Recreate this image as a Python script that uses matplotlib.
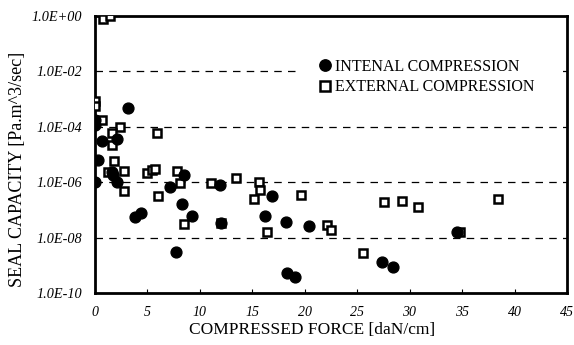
import matplotlib
matplotlib.use("Agg")
import matplotlib.pyplot as plt
from matplotlib.ticker import FixedLocator, FuncFormatter
import numpy as np

# internal compression: force [daN/cm], seal capacity [Pa.m^3/sec]
int_force = [3.16, 0.05, 0.05, 0.68, 2.17, 0.33, 1.66, 1.8, 2.11, 0.05,
             7.18, 8.54, 8.29, 9.32, 3.85, 4.39, 7.75, 11.93, 12.09, 16.9,
             16.2, 18.2, 18.33, 19.06, 20.4, 27.36, 28.4, 34.5]
int_cap = [4.7e-4, 1.8e-4, 1.2e-4, 3.1e-5, 3.7e-5, 6.5e-6, 2.4e-6, 1.8e-6, 1.0e-6, 1.0e-6,
           6.6e-7, 1.8e-6, 1.7e-7, 6.0e-8, 5.7e-8, 7.9e-8, 2.9e-9, 7.9e-7, 3.3e-8, 3.2e-7,
           6.0e-8, 3.6e-8, 5.1e-10, 3.7e-10, 2.7e-8, 1.35e-9, 8.5e-10, 1.6e-8]

# external compression
ext_force = [0.84, 1.47, 0.05, 0.05, 0.68, 2.42, 1.63, 1.63, 5.91, 1.88,
             1.31, 2.83, 4.96, 5.47, 5.75, 7.84, 8.17, 2.83, 6.06, 8.5,
             11.14, 13.52, 15.64, 15.73, 15.16, 16.46, 19.7, 22.17, 22.5, 25.55,
             27.6, 29.26, 30.78, 38.4, 34.8, 12.09]
ext_cap = [0.78, 1.0, 8.5e-4, 5.6e-4, 1.8e-4, 1.0e-4, 5.8e-5, 2.2e-5, 5.8e-5, 5.9e-6,
           2.4e-6, 2.5e-6, 2.2e-6, 2.7e-6, 3.0e-6, 2.5e-6, 9.1e-7, 4.9e-7, 3.2e-7, 3.2e-8,
           9.6e-7, 1.4e-6, 1.0e-6, 5.2e-7, 2.5e-7, 1.6e-8, 3.5e-7, 2.8e-8, 1.9e-8, 2.7e-9,
           2.0e-7, 2.1e-7, 1.3e-7, 2.5e-7, 1.6e-8, 3.3e-8]

y_ticks = [1e-10, 1e-8, 1e-6, 1e-4, 1e-2, 1e0]
x_ticks = [0, 5, 10, 15, 20, 25, 30, 35, 40, 45]

plt.rcParams['font.family'] = ['Liberation Serif', 'DejaVu Serif']

fig = plt.figure(figsize=(5.74, 3.45), dpi=100)
ax = fig.add_axes([94.5 / 574, 1 - 293 / 345, (567 - 94.5) / 574, (293 - 16) / 345])

ax.set_yscale('log')
ax.set_xlim(0, 45)
ax.set_ylim(1e-10, 1e0)

for y in y_ticks[1:-1]:
    ax.axhline(y, color='black', lw=0.9, ls=(0, (6, 5)), zorder=1)

sq, = ax.plot(ext_force, ext_cap, 's', ms=6.3, mfc='white', mec='black', mew=1.8,
              ls='none', zorder=3, label='EXTERNAL COMPRESSION')
ci, = ax.plot(int_force, int_cap, 'o', ms=7.8, mfc='black', mec='black',
              ls='none', zorder=4, label='INTENAL COMPRESSION')

ax.yaxis.set_major_locator(FixedLocator(y_ticks))
ax.yaxis.set_minor_locator(FixedLocator([]))
ax.yaxis.set_major_formatter(FuncFormatter(lambda v, p: '%.1fE%+03d' % (1.0, int(round(np.log10(v))))))
ax.xaxis.set_major_locator(FixedLocator(x_ticks))

ax.tick_params(axis='y', length=0, pad=9, labelsize=10.3)
ax.tick_params(axis='x', direction='in', length=3, width=0.8, pad=9, labelsize=10)
for lab in ax.get_xticklabels() + ax.get_yticklabels():
    lab.set_fontstyle('italic')

for s in ax.spines.values():
    s.set_linewidth(2.0)

ax.set_xlabel('COMPRESSED FORCE [daN/cm]', fontsize=12.5)
ax.set_ylabel('SEAL CAPACITY [Pa.m^3/sec]', fontsize=13)
ax.xaxis.set_label_coords((312 - 94.5) / 472.5, (293 - 322) / 277)
ax.yaxis.set_label_coords((26 - 94.5) / 472.5, (293 - 169) / 277)

leg = ax.legend(handles=[ci, sq], loc='center', bbox_to_anchor=(0.705, 0.78),
                frameon=True, fontsize=11.5, handlelength=0.6, handletextpad=0.3,
                labelspacing=0.3, borderpad=1.5, markerscale=1.05, fancybox=False)
leg.get_frame().set_facecolor('white')
leg.get_frame().set_edgecolor('none')
leg.get_frame().set_alpha(1)
leg.set_zorder(5)

fig.savefig('out.png', dpi=100)
